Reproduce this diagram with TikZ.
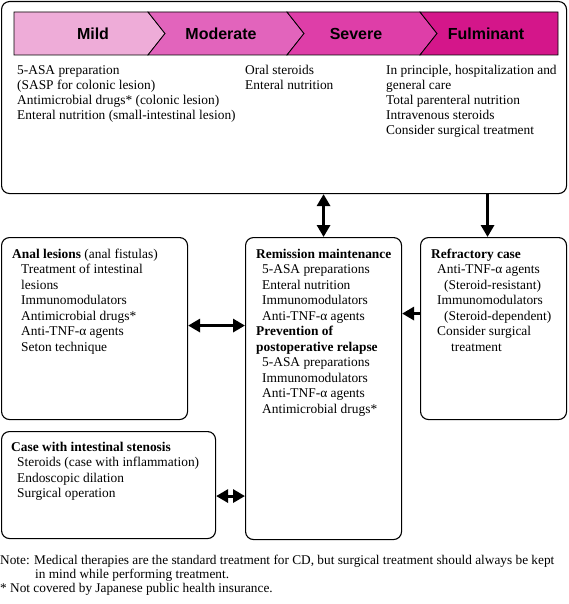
\documentclass[tikz,border=0pt]{standalone}
\usepackage{fontspec}
\setmainfont{Liberation Serif}
\newfontfamily\hv{Liberation Sans}
\usetikzlibrary{arrows.meta}
\definecolor{cmild}{RGB}{238,172,216}
\definecolor{cmod}{RGB}{226,100,188}
\definecolor{csev}{RGB}{222,62,168}
\definecolor{cful}{RGB}{212,22,138}
\begin{document}
\begin{tikzpicture}[x=1pt,y=-1pt,
  box/.style={draw,line width=1.1pt,rounded corners=8pt,inner sep=0pt,anchor=north west},
  txt/.style={inner sep=0pt,anchor=north west,align=left,font=\fontsize{13.4}{15}\selectfont},
  txtb/.style={inner sep=0pt,anchor=north west,align=left,font=\fontsize{13.4}{15.5}\selectfont},
  lab/.style={inner sep=0pt,font=\hv\bfseries\fontsize{16}{18}\selectfont},
  fat/.style={line width=3pt,-{Triangle[length=12pt,width=13pt]}},
  fatb/.style={line width=3pt,{Triangle[length=12pt,width=13pt]}-{Triangle[length=12pt,width=13pt]}},
  seg/.style={draw,line width=0.8pt}]
\useasboundingbox (0,0) rectangle (568,604);
% top box
\node[box,minimum width=565pt,minimum height=192pt] (top) at (1,1) {};
% banner
\draw[seg,fill=cmild] (14,12) -- (148,12) -- (165,33.5) -- (148,55) -- (14,55) -- cycle;
\draw[seg,fill=cmod] (148,12) -- (287,12) -- (304,33.5) -- (287,55) -- (148,55) -- (165,33.5) -- cycle;
\draw[seg,fill=csev] (287,12) -- (420,12) -- (437,33.5) -- (420,55) -- (287,55) -- (304,33.5) -- cycle;
\draw[seg,fill=cful] (420,12) -- (558,12) -- (558,55) -- (420,55) -- (437,33.5) -- cycle;
\node[lab] (lmild) at (93,33.5) {Mild};
\node[lab] (lmod) at (221,33.5) {Moderate};
\node[lab] (lsev) at (356,33.5) {Severe};
\node[lab] (lful) at (486,33.5) {Fulminant};
% top texts
\node[txt] (tmild) at (17,65) {5-ASA preparation\\(SASP for colonic lesion)\\Antimicrobial drugs* (colonic lesion)\\Enteral nutrition (small-intestinal lesion)};
\node[txt] (tmod) at (245,65) {Oral steroids\\Enteral nutrition};
\node[txt] (tful) at (386,65) {In principle, hospitalization and\\general care\\Total parenteral nutrition\\Intravenous steroids\\Consider surgical treatment};
% middle boxes
\node[box,minimum width=186pt,minimum height=182pt] (anal) at (1,237) {};
\node[box,minimum width=156pt,minimum height=302pt] (remit) at (245,237) {};
\node[box,minimum width=146pt,minimum height=182pt] (refr) at (420,237) {};
\node[box,minimum width=214pt,minimum height=107pt] (sten) at (1,431) {};
\node[txtb] (tanal) at (12,248.5) {\textbf{Anal lesions} (anal fistulas)\\
\hspace*{9pt}Treatment of intestinal\\\hspace*{9pt}lesions\\\hspace*{9pt}Immunomodulators\\
\hspace*{9pt}Antimicrobial drugs*\\\hspace*{9pt}Anti-TNF-α agents\\\hspace*{9pt}Seton technique};
\node[txtb] (tremit) at (256,248.5) {\textbf{Remission maintenance}\\
\hspace*{6pt}5-ASA preparations\\\hspace*{6pt}Enteral nutrition\\\hspace*{6pt}Immunomodulators\\
\hspace*{6pt}Anti-TNF-α agents\\\textbf{Prevention of}\\\textbf{postoperative relapse}\\
\hspace*{6pt}5-ASA preparations\\\hspace*{6pt}Immunomodulators\\\hspace*{6pt}Anti-TNF-α agents\\
\hspace*{6pt}Antimicrobial drugs*};
\node[txtb] (trefr) at (431,248.5) {\textbf{Refractory case}\\
\hspace*{6pt}Anti-TNF-α agents\\\hspace*{13pt}(Steroid-resistant)\\\hspace*{6pt}Immunomodulators\\
\hspace*{13pt}(Steroid-dependent)\\\hspace*{6pt}Consider surgical\\\hspace*{20pt}treatment};
\node[txtb] (tsten) at (11,441.5) {\textbf{Case with intestinal stenosis}\\
\hspace*{6pt}Steroids (case with inflammation)\\\hspace*{6pt}Endoscopic dilation\\\hspace*{6pt}Surgical operation};
% note
\node[inner sep=0pt,anchor=north west,align=left,font=\fontsize{13.3}{14}\selectfont] (note) at (0,555) {Note: Medical therapies are the standard treatment for CD, but surgical treatment should always be kept\\
\hspace*{35pt}in mind while performing treatment.\\* Not covered by Japanese public health insurance.};
% arrows
\draw[fatb] (top.south -| remit.north) -- (remit.north);
\draw[fat] ([xshift=-6pt]top.south -| refr.north) -- ([xshift=-6pt]refr.north);
\draw[fat] ([yshift=15pt]refr.west) -- ([yshift=15pt]refr.west -| remit.east);
\draw[fatb] ([yshift=3pt]anal.east) -- ([yshift=3pt]anal.east -| remit.west);
\draw[fatb] ([yshift=-11pt]sten.east) -- ([yshift=-11pt]sten.east -| remit.west);
\end{tikzpicture}
\end{document}
